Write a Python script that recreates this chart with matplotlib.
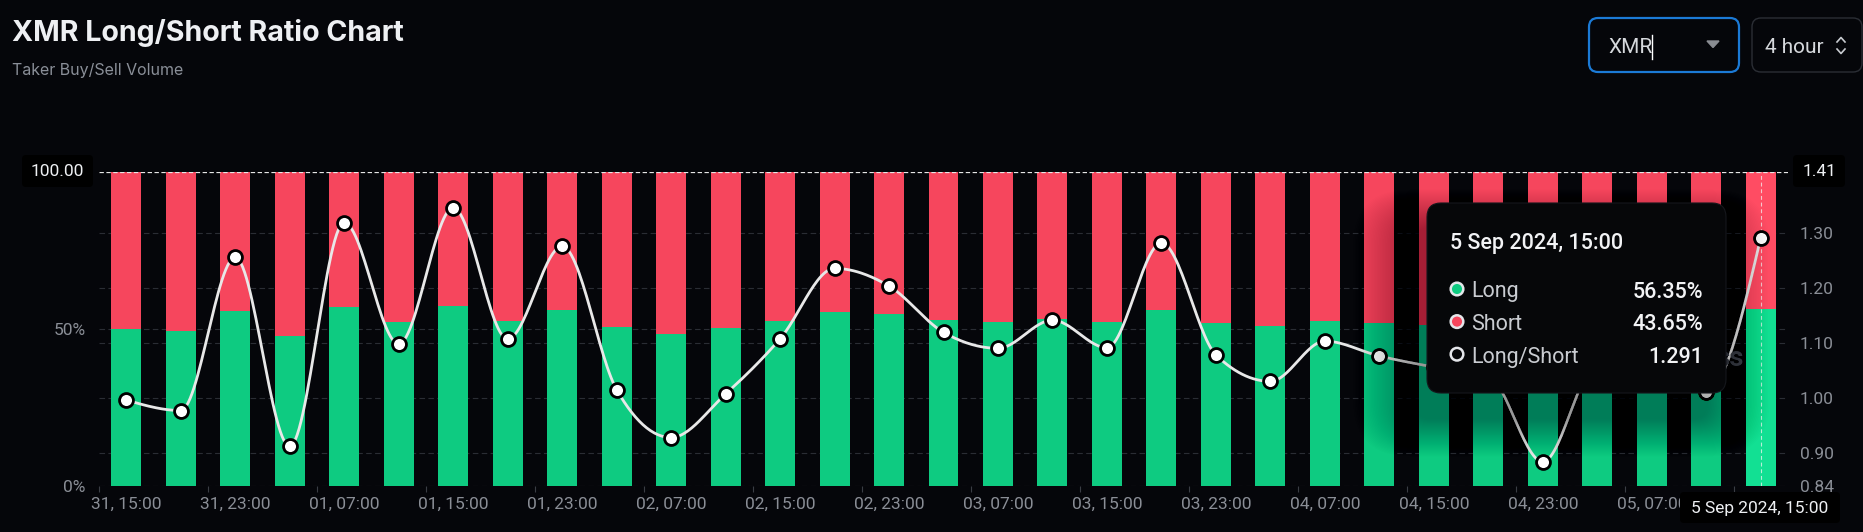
import matplotlib
matplotlib.use("Agg")
import matplotlib.pyplot as plt
import numpy as np
from matplotlib.patches import FancyBboxPatch, Polygon, Circle
from matplotlib.transforms import blended_transform_factory

# 4 hour buckets, 31 Aug 15:00 .. 5 Sep 15:00
long_pct = [49.95, 49.4, 55.8, 47.8, 56.9, 52.3, 57.4, 52.6, 56.1, 50.5,
            48.25, 50.4, 52.6, 55.35, 54.7, 52.9, 52.3, 53.3, 52.3, 56.2,
            51.9, 50.8, 52.5, 51.9, 51.4, 51.0, 46.9, 51.5, 51.0, 50.2, 56.35]
ratio = [0.996, 0.977, 1.255, 0.912, 1.318, 1.098, 1.345, 1.107, 1.275, 1.015,
         0.928, 1.007, 1.107, 1.235, 1.203, 1.119, 1.090, 1.141, 1.091, 1.281,
         1.078, 1.030, 1.103, 1.076, 1.056, 1.040, 0.884, 1.060, 1.040, 1.010, 1.291]
x_labels = ["31, 15:00", "31, 23:00", "01, 07:00", "01, 15:00", "01, 23:00",
            "02, 07:00", "02, 15:00", "02, 23:00", "03, 07:00", "03, 15:00",
            "03, 23:00", "04, 07:00", "04, 15:00", "04, 23:00", "05, 07:00"]
left_ticks = [0, 50]
left_tick_labels = ["0%", "50%"]
right_ticks = [0.84, 0.90, 1.00, 1.10, 1.20, 1.30]
ratio_lim = (0.84, 1.41)
hover_idx = 30
hover_time = "5 Sep 2024, 15:00"
hover_rows = [("Long", "56.35%"), ("Short", "43.65%"), ("Long/Short", "1.291")]

BG = "#05060a"
GREEN = "#0ecb81"
RED = "#f6465d"
GRID = "#2a2d34"
TICK = "#8a8e96"
W, H = 1863, 532


def monotone_x(xs, ys, n=30):
    # same curve as d3.curveMonotoneX
    xs = np.asarray(xs, float)
    ys = np.asarray(ys, float)
    h = np.diff(xs)
    s = np.diff(ys) / h
    m = np.zeros_like(ys)
    for i in range(1, len(ys) - 1):
        p = (s[i - 1] * h[i] + s[i] * h[i - 1]) / (h[i - 1] + h[i])
        m[i] = (np.sign(s[i - 1]) + np.sign(s[i])) * min(abs(s[i - 1]), abs(s[i]), 0.5 * abs(p))
    m[0] = (3 * s[0] - m[1]) / 2
    m[-1] = (3 * s[-1] - m[-2]) / 2
    px, py = [], []
    for i in range(len(xs) - 1):
        t = np.linspace(0, 1, n)
        h00 = 2 * t**3 - 3 * t**2 + 1
        h10 = t**3 - 2 * t**2 + t
        h01 = -2 * t**3 + 3 * t**2
        h11 = t**3 - t**2
        px.append(xs[i] + t * h[i])
        py.append(h00 * ys[i] + h10 * h[i] * m[i] + h01 * ys[i + 1] + h11 * h[i] * m[i + 1])
    return np.concatenate(px), np.concatenate(py)


plt.rcParams["font.family"] = ["Roboto", "DejaVu Sans"]

fig = plt.figure(figsize=(W / 100, H / 100), dpi=100, facecolor=BG)
ax = fig.add_axes([99 / W, 1 - 486 / H, (1788 - 99) / W, (486 - 172) / H])
ax.set_facecolor(BG)
ax2 = ax.twinx()
ax2.patch.set_visible(False)

x = np.arange(len(long_pct))
short_pct = [100 - v for v in long_pct]
gcol = [GREEN] * len(x)
rcol = [RED] * len(x)
gcol[hover_idx] = "#12e093"
rcol[hover_idx] = "#ff4c63"
ax.bar(x, long_pct, width=0.55, color=gcol, zorder=2)
ax.bar(x, short_pct, bottom=long_pct, width=0.55, color=rcol, zorder=2)

ax.set_xlim(-0.5, len(x) - 0.5)
ax.set_ylim(0, 100)
ax2.set_ylim(*ratio_lim)

# grid (behind the bars)
dash = dict(color=GRID, lw=0.8, dashes=(5, 3), zorder=1)
for v in [0, 50]:
    ax.axhline(v, **dash)
tr = blended_transform_factory(ax.transAxes, ax2.transData)
for v in right_ticks[1:]:
    ax.plot([0, 1], [v, v], transform=tr, **dash)
ax.axhline(100, color="#e6e6e6", lw=0.9, dashes=(3.5, 2), zorder=6)
ax.axvline(hover_idx, color="#f2f2f2", lw=0.8, dashes=(3.5, 2.5), alpha=0.75, zorder=6)

cx, cy = monotone_x(x, ratio)
ax2.plot(cx, cy, color="#e8e8e8", lw=2, zorder=3, solid_capstyle="round")
ax2.plot(x, ratio, "o", ms=10, mfc="white", mec="black", mew=2, zorder=4)

for a in (ax, ax2):
    for sp in a.spines.values():
        sp.set_visible(False)

ax.set_xticks(x[:hover_idx:2])
ax.set_xticklabels(x_labels)
ax.set_xticks(np.arange(-0.5, len(x), 2), minor=True)
ax.tick_params(axis="x", which="major", length=0, pad=8, labelsize=12.5, labelcolor=TICK)
ax.tick_params(axis="x", which="minor", length=4, width=0.8, color="#3a3d44")
ax.set_yticks(left_ticks)
ax.set_yticklabels(left_tick_labels)
ax.tick_params(axis="y", length=0, pad=9.5, labelsize=12.5, labelcolor=TICK)
ax2.set_yticks(right_ticks)
ax2.set_yticklabels([f"{v:.2f}" for v in right_ticks])
ax2.tick_params(axis="y", length=0, pad=8.5, labelsize=12.5, labelcolor=TICK)

# overlay in pixel units for header, crosshair labels and tooltip
ov = fig.add_axes([0, 0, 1, 1], zorder=10)
ov.set_xlim(0, W)
ov.set_ylim(H, 0)
ov.axis("off")
ov.patch.set_visible(False)

ov.text(12, 41, "XMR Long/Short Ratio Chart", fontsize=20.6, weight="bold",
        family=["Inter", "DejaVu Sans"], color="#eef0f3", va="baseline")
ov.text(12, 75, "Taker Buy/Sell Volume", fontsize=11.5, family=["Inter", "DejaVu Sans"],
        color="#8a8f98", va="baseline")

ov.add_patch(FancyBboxPatch((1589, 18), 150, 54, boxstyle="round,pad=0,rounding_size=9",
                            fc=BG, ec="#1b7ad6", lw=1.6))
ov.text(1608, 53, "XMR", fontsize=15, color="#d5d8dc", va="baseline")
ov.plot([1652, 1652], [35, 59], color="white", lw=1)
ov.add_patch(Polygon([[1707, 41], [1719, 41], [1713, 47.5]], closed=True, color="#8a8d93"))
ov.add_patch(FancyBboxPatch((1752, 18), 110, 54, boxstyle="round,pad=0,rounding_size=9",
                            fc=BG, ec="#2b2e35", lw=1))
ov.text(1765, 53, "4 hour", fontsize=15, color="#d5d8dc", va="baseline")
ov.plot([1837, 1841, 1845], [42, 37.5, 42], color="#c8cbd0", lw=1.2)
ov.plot([1837, 1841, 1845], [49, 53.5, 49], color="#c8cbd0", lw=1.2)

# crosshair labels
for (bx, by, bw, bh, txt) in [(22, 155, 71, 32, "100.00"), (1793, 155, 52, 32, "1.41"),
                              (1680, 492, 160, 31, hover_time)]:
    ov.add_patch(FancyBboxPatch((bx, by), bw, bh, boxstyle="round,pad=0,rounding_size=4",
                                fc="#000000", ec="none", zorder=5))
    ov.text(bx + bw / 2, by + bh / 2 + 1, txt, fontsize=12.5, color="#eef0f3",
            ha="center", va="center", zorder=6)

# faint watermark tail peeking out from behind the tooltip
ov.text(1744, 366, "ss", fontsize=20, weight="bold", color="#44474e",
        ha="right", va="baseline", zorder=1)

# tooltip with a soft shadow
tx0, ty0, tw, th = 1427, 203, 299, 190
n_layers = 40
for k in range(n_layers, 0, -1):
    r = 85 * k / n_layers
    ov.add_patch(FancyBboxPatch((tx0 - 10 - r * 0.75, ty0 + 25 - r * 0.45),
                                tw - 10 + 2 * r * 0.75, th + 2 * r * 0.45,
                                boxstyle=f"round,pad=0,rounding_size={14 + r * 0.5:.1f}",
                                fc="black", ec="none", alpha=0.008, zorder=2))
ov.add_patch(FancyBboxPatch((tx0, ty0), tw, th, boxstyle="round,pad=0,rounding_size=14",
                            fc="#060709", ec="#15171c", lw=0.8, zorder=3))
ov.text(1450, 249, hover_time, fontsize=15.5, color="#f2f3f5", va="baseline",
        weight="medium", zorder=4)
dot_cols = [GREEN, RED, "#060709"]
for i, (lab, val) in enumerate(hover_rows):
    yb = 297.5 + i * 32.6
    ov.add_patch(Circle((1457, yb - 8.5), 6.3, fc=dot_cols[i], ec="#e4e6ea", lw=1.8, zorder=4))
    ov.text(1471, yb, lab, fontsize=15.5, color="#c9ccd1", va="baseline", zorder=4)
    ov.text(1703, yb, val, fontsize=15.5, color="#f2f3f5", va="baseline", ha="right",
            weight="medium", zorder=4)

fig.savefig("out.png", dpi=100, facecolor=BG)
